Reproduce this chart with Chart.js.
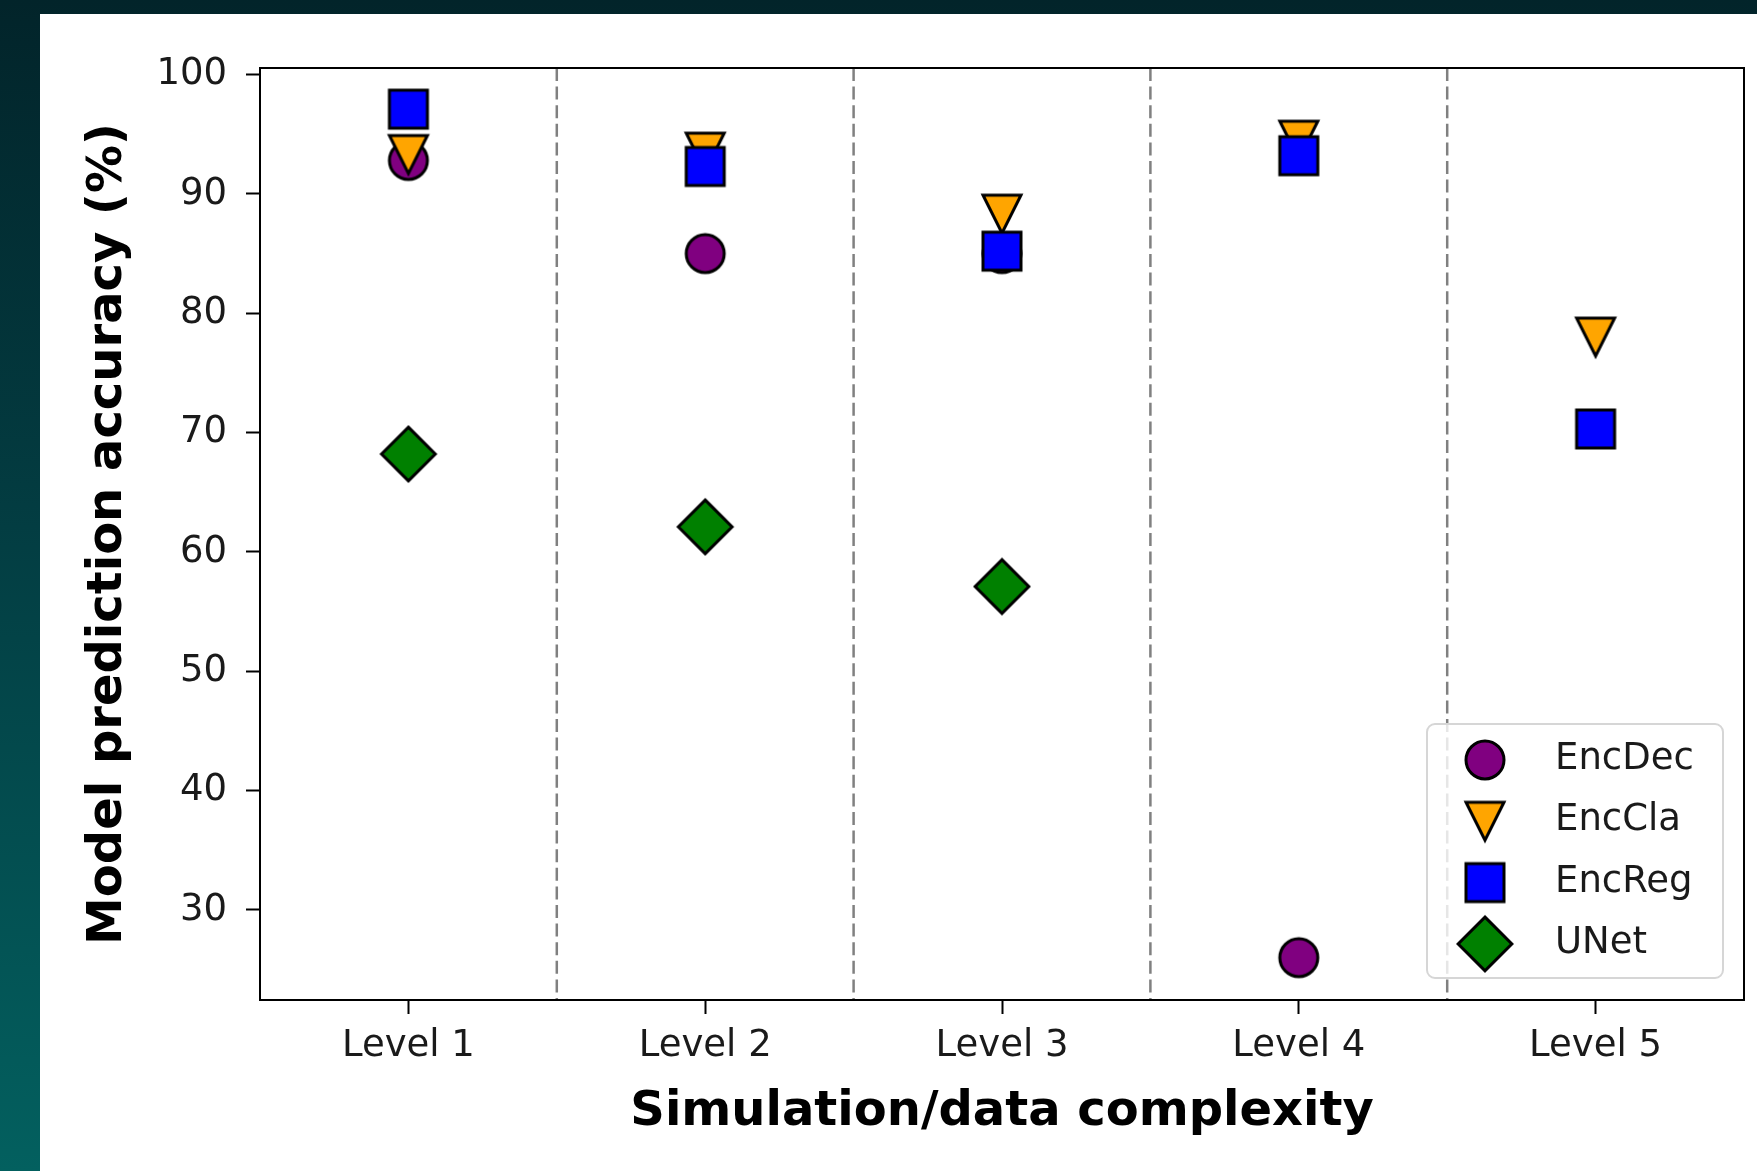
<!DOCTYPE html>
<html>
<head>
<meta charset="utf-8">
<script src="https://cdn.jsdelivr.net/npm/chart.js@4.4.1/dist/chart.umd.min.js"></script>
<style>
  html, body { margin: 0; padding: 0; }
  body {
    width: 1757px; height: 1171px; overflow: hidden; position: relative;
    background: linear-gradient(to bottom, #02242a 0%, #033d42 45%, #03605f 100%);
  }
  #wrap { position: absolute; left: 40px; top: 14px; width: 1717px; height: 1157px; background: #fff; }
</style>
</head>
<body>
<div id="wrap"><canvas id="chart"></canvas></div>
<script>
const levels = ['Level 1', 'Level 2', 'Level 3', 'Level 4', 'Level 5'];
const encDec = [92.8, 85, 85, 26, null];
const encCla = [93.3, 93.5, 88.3, 94.5, 78];
const encReg = [97.1, 92.3, 85.2, 93.2, 70.3];
const uNet   = [68.2, 62.1, 57.1, null, null];
const yTicks = [30, 40, 50, 60, 70, 80, 90, 100];

const FONT = 'DejaVu Sans';

// matplotlib-like markers (ms ~38px, edge 3px)
function makeMarker(shape, fill) {
  const c = document.createElement('canvas');
  c.width = 64; c.height = 64;
  const g = c.getContext('2d');
  const m = 32, h = 19;
  g.beginPath();
  if (shape === 'o') {
    g.arc(m, m, h, 0, Math.PI * 2);
  } else if (shape === 'v') {
    g.moveTo(m - h, m - h); g.lineTo(m + h, m - h); g.lineTo(m, m + h); g.closePath();
  } else if (shape === 's') {
    g.rect(m - h, m - h, 2 * h, 2 * h);
  } else if (shape === 'D') {
    const d = h * Math.SQRT2;
    g.moveTo(m, m - d); g.lineTo(m + d, m); g.lineTo(m, m + d); g.lineTo(m - d, m); g.closePath();
  }
  g.fillStyle = fill; g.fill();
  g.lineJoin = 'miter'; g.lineWidth = 3; g.strokeStyle = '#000'; g.stroke();
  return c;
}

const series = [
  { label: 'EncDec', data: encDec, marker: makeMarker('o', '#800080') },
  { label: 'EncCla', data: encCla, marker: makeMarker('v', '#FFA500') },
  { label: 'EncReg', data: encReg, marker: makeMarker('s', '#0000FF') },
  { label: 'UNet',   data: uNet,   marker: makeMarker('D', '#008000') }
];

// dashed separators between the levels + box frame
const levelLines = {
  id: 'levelLines',
  beforeDatasetsDraw(chart) {
    const { ctx, chartArea, scales: { x } } = chart;
    ctx.save();
    ctx.strokeStyle = '#808080';
    ctx.lineWidth = 2.5;
    ctx.setLineDash([13, 5.6]);
    for (let i = 0; i < levels.length - 1; i++) {
      const px = x.getPixelForValue(i + 0.5);
      ctx.beginPath(); ctx.moveTo(px, chartArea.top); ctx.lineTo(px, chartArea.bottom); ctx.stroke();
    }
    ctx.restore();
  },
  afterDatasetsDraw(chart) {
    const { ctx, chartArea: a } = chart;
    ctx.save();
    ctx.strokeStyle = '#000';
    ctx.lineWidth = 2;
    ctx.strokeRect(a.left, a.top, a.right - a.left, a.bottom - a.top);
    ctx.restore();
  }
};

// legend in the lower right corner, like matplotlib's
const cornerLegend = {
  id: 'cornerLegend',
  afterDraw(chart) {
    const { ctx, chartArea } = chart;
    const w = 296, h = 254;
    const x0 = chartArea.right - 21 - w;
    const y0 = chartArea.bottom - 22 - h;
    ctx.save();
    ctx.beginPath();
    ctx.roundRect(x0, y0, w, h, 8);
    ctx.fillStyle = 'rgba(255,255,255,0.8)';
    ctx.fill();
    ctx.strokeStyle = '#d6d6d6';
    ctx.lineWidth = 2;
    ctx.stroke();
    ctx.font = `37px "${FONT}"`;
    ctx.fillStyle = '#1a1a1a';
    ctx.textBaseline = 'alphabetic';
    chart.data.datasets.forEach((d, i) => {
      const cy = y0 + 36 + i * 61.3;
      const img = d.pointStyle;
      ctx.drawImage(img, x0 + 58 - img.width / 2, cy - img.height / 2);
      ctx.fillText(d.label, x0 + 128, cy + 9);
    });
    ctx.restore();
  }
};

new Chart(document.getElementById('chart'), {
  type: 'line',
  data: {
    labels: levels,
    datasets: series.map((s, i) => ({
      label: s.label,
      data: s.data,
      pointStyle: s.marker,
      pointRadius: 20,
      pointHoverRadius: 20,
      showLine: false,
      borderColor: 'transparent',
      backgroundColor: 'transparent',
      order: series.length - i
    }))
  },
  options: {
    responsive: true,
    maintainAspectRatio: false,
    animation: false,
    events: [],
    layout: { autoPadding: false, padding: { top: 54, right: 13, left: 0, bottom: 0 } },
    plugins: { legend: { display: false }, tooltip: { enabled: false } },
    scales: {
      x: {
        type: 'category',
        offset: true,
        afterFit: s => { s.height = 171; s.paddingLeft = 0; s.paddingRight = 0; },
        grid: { drawOnChartArea: false, drawTicks: true, tickLength: 14, tickWidth: 2, tickColor: '#000' },
        border: { color: '#000', width: 2 },
        ticks: { color: '#1a1a1a', font: { family: FONT, size: 37 }, padding: 10, maxRotation: 0, autoSkip: false },
        title: {
          display: true, text: 'Simulation/data complexity', color: '#000',
          font: { family: FONT, size: 48, weight: 'bold' }, padding: { bottom: 30 }
        }
      },
      y: {
        type: 'linear',
        min: 22.45,
        max: 100.55,
        afterFit: s => { s.width = 220; },
        afterBuildTicks: s => { s.ticks = yTicks.map(v => ({ value: v })); },
        grid: { drawOnChartArea: false, drawTicks: true, tickLength: 14, tickWidth: 2, tickColor: '#000' },
        border: { color: '#000', width: 2 },
        ticks: { color: '#1a1a1a', font: { family: FONT, size: 37 }, padding: 19 },
        title: {
          display: true, text: 'Model prediction accuracy (%)', color: '#000',
          font: { family: FONT, size: 48, weight: 'bold' }, padding: { top: 40 }
        }
      }
    }
  },
  plugins: [levelLines, cornerLegend]
});
</script>
</body>
</html>
